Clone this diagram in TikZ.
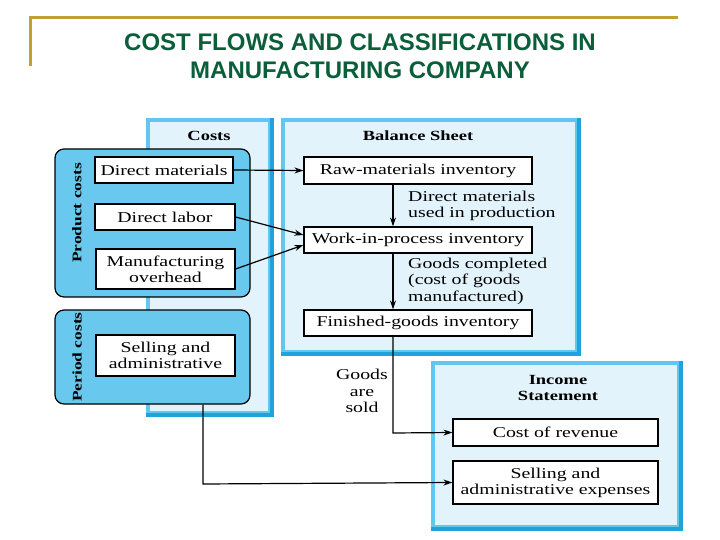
\documentclass[tikz,border=0pt]{standalone}
\usepackage{fontspec}
\setmainfont[FakeStretch=1.32]{Liberation Serif}
\newfontfamily\titlefont{Liberation Sans}
\usetikzlibrary{arrows.meta,positioning}
\definecolor{gold}{HTML}{C0A033}
\definecolor{titlegreen}{HTML}{0B5E3A}
\definecolor{panelfill}{HTML}{E2F3FC}
\definecolor{panelline}{HTML}{62C7F0}
\definecolor{paneldark}{HTML}{1FA3DC}
\definecolor{groupfill}{HTML}{68C8EE}
\tikzset{
  panel/.style={draw=panelline,fill=panelfill,line width=3.5pt,minimum width=#1,inner sep=0pt},
  grp/.style={draw=black,fill=groupfill,line width=1.2pt,rounded corners=9pt,inner sep=0pt},
  wbox/.style={draw=black,fill=white,line width=1.2pt,inner sep=0pt,align=center,font=\fontsize{15}{16}\selectfont},
  lbl/.style={align=left,inner sep=0pt,font=\fontsize{15}{16.5}\selectfont},
  hdr/.style={align=center,inner sep=0pt,font=\bfseries\fontsize{14}{16}\selectfont},
  vlbl/.style={rotate=90,inner sep=0pt,font=\bfseries\fontsize{13.2}{16}\selectfont},
  arr/.style={line width=1.2pt,-{Stealth[length=9pt,width=6pt]}},
}
\begin{document}
\begin{tikzpicture}[x=1pt,y=-1pt]
\useasboundingbox (0,0) rectangle (720,540);
% title frame
\draw[gold,line width=3pt] (30,66) -- (30,18) -- (678,18);
\node[titlegreen,font=\titlefont\bfseries\fontsize{24}{28}\selectfont,align=center] (title) at (360,56)
  {COST FLOWS AND CLASSIFICATIONS IN\\MANUFACTURING COMPANY};
% panels
\node[panel=122pt,minimum height=293pt] (costs) at (209,266.5) {};
\draw[paneldark,line width=3.5pt] (costs.north east) -- (costs.south east) -- (costs.south west);
\node[panel=294pt,minimum height=232pt] (bs) at (430,236) {};
\draw[paneldark,line width=3.5pt] (bs.north east) -- (bs.south east) -- (bs.south west);
\node[panel=246pt,minimum height=164pt] (is) at (556,445) {};
\draw[paneldark,line width=3.5pt] (is.north east) -- (is.south east) -- (is.south west);
\node[hdr] (costshdr) at (209,136) {Costs};
\node[hdr] (bshdr) at (418,136) {Balance Sheet};
\node[hdr] (ishdr) at (558,388) {Income\\Statement};
% groups
\node[grp,minimum width=195pt,minimum height=148pt] (prod) at (152.5,223) {};
\node[grp,minimum width=195pt,minimum height=94pt] (per) at (152.5,357) {};
\node[vlbl] (prodlbl) at (77,213) {Product costs};
\node[vlbl] (perlbl) at (77,357) {Period costs};
% cost boxes
\node[wbox,minimum width=138pt,minimum height=26pt] (dm) at (164,170) {Direct materials};
\node[wbox,minimum width=140pt,minimum height=26pt] (dl) at (165,217) {Direct labor};
\node[wbox,minimum width=139pt,minimum height=40pt] (mo) at (165.5,269) {Manufacturing\\overhead};
\node[wbox,minimum width=139pt,minimum height=41pt] (sa) at (165.5,355.5) {Selling and\\administrative};
% balance sheet boxes
\node[wbox,minimum width=228pt,minimum height=27pt] (raw) at (418,170.5) {Raw-materials inventory};
\node[wbox,minimum width=228pt,minimum height=26pt] (wip) at (418,240) {Work-in-process inventory};
\node[wbox,minimum width=228pt,minimum height=26pt] (fg) at (418,323) {Finished-goods inventory};
% income statement boxes
\node[wbox,minimum width=205pt,minimum height=27pt] (cor) at (555.5,432.5) {Cost of revenue};
\node[wbox,minimum width=205pt,minimum height=43pt] (sae) at (555.5,482.5) {Selling and\\administrative expenses};
% labels
\node[lbl,anchor=west] (l1) at (408,206) {Direct materials\\used in production};
\node[lbl,anchor=west] (l2) at (408,281) {Goods completed\\(cost of goods\\manufactured)};
\node[lbl,align=center] (l3) at (362,391) {Goods\\are\\sold};
% connectors
\draw[arr] (dm.east) -- (raw.west);
\draw[arr] (dl.east) -- ([yshift=5pt]wip.west);
\draw[arr] (mo.east) -- ([yshift=-5pt]wip.west);
\draw[arr] (raw.south -| 393,0) -- (wip.north -| 393,0);
\draw[arr] (wip.south -| 393,0) -- (fg.north -| 393,0);
\coordinate (c1) at (393,433);
\draw[arr] (fg.south -| 393,0) -- (c1) -- (cor.west);
\coordinate (c2) at (203,484);
\draw[arr] (per.south -| 203,0) -- (c2) -- (sae.west);
\end{tikzpicture}
\end{document}
